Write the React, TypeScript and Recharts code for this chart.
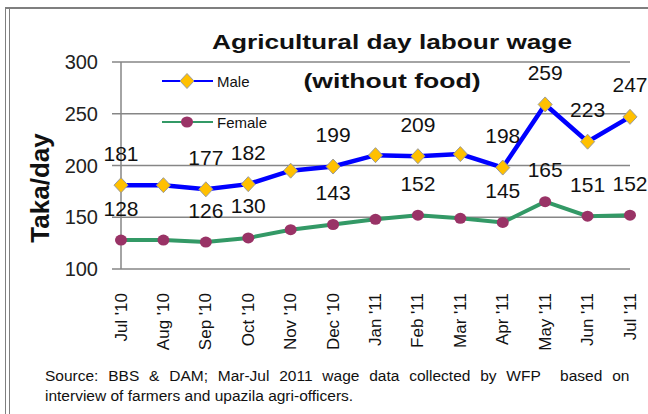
import { LineChart, Line, XAxis, YAxis, CartesianGrid, Legend, LabelList } from 'recharts'

const MONTHS = ["Jul '10", "Aug '10", "Sep '10", "Oct '10", "Nov '10", "Dec '10", "Jan '11", "Feb '11", "Mar '11", "Apr '11", "May '11", "Jun '11", "Jul '11"]
const MALE = [181, 181, 177, 182, 195, 199, 210, 209, 211, 198, 259, 223, 247]
const FEMALE = [128, 128, 126, 130, 138, 143, 148, 152, 149, 145, 165, 151, 152]
// months that carry a value label in the original
const LABELLED = [0, 2, 3, 5, 7, 9, 10, 11, 12]
const Y_TICKS = [100, 150, 200, 250, 300]
const EDGE_TICKS = [0, 1, 2, 3, 4, 5, 6, 7, 8, 9, 10, 11, 12, 13]

const data = MONTHS.map((month, i) => ({ month, male: MALE[i], female: FEMALE[i] }))

const GREY = '#868686'
const FONT = '"Liberation Sans", Arial, sans-serif'

const Diamond = ({ cx, cy }: { cx?: number; cy?: number }) => {
  if (cx == null || cy == null) return null
  return <path d={`M${cx},${cy - 7.5} L${cx + 7},${cy} L${cx},${cy + 7.5} L${cx - 7},${cy} Z`} fill="#FFC000" stroke="#9a9a9a" strokeWidth={1} />
}

const Dot = ({ cx, cy }: { cx?: number; cy?: number }) => {
  if (cx == null || cy == null) return null
  return <ellipse cx={cx} cy={cy} rx={6} ry={5.5} fill="#993366" />
}

const ValueLabel = (props: any) => {
  const { x, y, value, index } = props
  if (!LABELLED.includes(index)) return null
  return (
    <text x={x} y={y - 32} textAnchor="middle" dominantBaseline="central" fontSize={21} fontFamily={FONT} fill="#111">
      {value}
    </text>
  )
}

const MonthTick = ({ x, y, payload }: any) => (
  <text
    x={x}
    y={y + 24}
    transform={`rotate(-90, ${x}, ${y + 24})`}
    textAnchor="end"
    dominantBaseline="central"
    fontSize={17}
    fontFamily={FONT}
    fill="#111"
  >
    {payload.value}
  </text>
)

const LEGEND = [
  { name: 'Male', color: '#0000FF', marker: 'diamond' },
  { name: 'Female', color: '#339966', marker: 'circle' },
]

const renderLegend = () => (
  <div style={{ fontFamily: FONT, fontSize: 15, color: '#111' }}>
    {LEGEND.map((s, i) => (
      <div key={s.name} style={{ display: 'flex', alignItems: 'center', height: 18, marginBottom: i === 0 ? 23 : 0 }}>
        <svg width={55} height={18}>
          <line x1={0} y1={9} x2={51} y2={9} stroke={s.color} strokeWidth={2} />
          {s.marker === 'diamond' ? <Diamond cx={25} cy={9} /> : <Dot cx={25} cy={9} />}
        </svg>
        <span>{s.name}</span>
      </div>
    ))}
  </div>
)

export default function App() {
  return (
    <div style={{ position: 'absolute', left: 0, top: 0, width: 648, height: 414, background: '#fff', overflow: 'hidden' }}>
      {/* frame */}
      <div style={{ position: 'absolute', left: 5, top: 7, width: 643, height: 2, background: '#7f7f7f' }} />
      <div style={{ position: 'absolute', left: 5, top: 7, width: 1, height: 407, background: '#7f7f7f' }} />
      <div style={{ position: 'absolute', left: 9, top: 9, width: 1, height: 405, background: '#7f7f7f' }} />

      <div style={{ position: 'absolute', left: 0, top: 0 }}>
        <LineChart width={648} height={414} data={data} margin={{ top: 62, right: 18, bottom: 65, left: 21 }}>
          <CartesianGrid xAxisId="cat" vertical={false} stroke={GREY} strokeWidth={1.5} />
          <XAxis
            xAxisId="edge"
            type="number"
            domain={[0, 13]}
            ticks={EDGE_TICKS}
            height={0}
            tick={false}
            tickSize={7}
            tickLine={{ stroke: GREY, strokeWidth: 1.5 }}
            axisLine={{ stroke: GREY, strokeWidth: 1.5 }}
            allowDataOverflow
          />
          <XAxis
            xAxisId="cat"
            dataKey="month"
            height={80}
            axisLine={false}
            tickLine={false}
            tickSize={0}
            tickMargin={0}
            interval={0}
            tick={<MonthTick />}
          />
          <YAxis
            domain={[100, 300]}
            ticks={Y_TICKS}
            width={100}
            tickSize={9}
            tickMargin={14}
            axisLine={{ stroke: GREY, strokeWidth: 1.5 }}
            tickLine={{ stroke: GREY, strokeWidth: 1.5 }}
            tick={{ fontSize: 20, fill: '#222', fontFamily: FONT }}
          />
          <Legend
            layout="vertical"
            align="center"
            verticalAlign="middle"
            content={renderLegend}
            wrapperStyle={{ position: 'absolute', top: 72, left: 162, width: 120 }}
          />
          <Line xAxisId="cat" dataKey="male" name="Male" stroke="#0000FF" strokeWidth={4.5} dot={<Diamond />} isAnimationActive={false}>
            <LabelList dataKey="male" content={<ValueLabel />} />
          </Line>
          <Line xAxisId="cat" dataKey="female" name="Female" stroke="#339966" strokeWidth={4} dot={<Dot />} isAnimationActive={false}>
            <LabelList dataKey="female" content={<ValueLabel />} />
          </Line>
        </LineChart>
      </div>

      {/* titles, axis title and source note */}
      <svg width={648} height={414} style={{ position: 'absolute', left: 0, top: 0, pointerEvents: 'none' }}>
        <text x={392} y={49} textAnchor="middle" fontSize={20} fontWeight="bold" fontFamily={FONT} textLength={360} lengthAdjust="spacingAndGlyphs" fill="#111">
          Agricultural day labour  wage
        </text>
        <text x={392} y={88} textAnchor="middle" fontSize={21} fontWeight="bold" fontFamily={FONT} textLength={177} lengthAdjust="spacingAndGlyphs" fill="#111">
          (without food)
        </text>
        <text x={40} y={188} transform="rotate(-90, 40, 188)" textAnchor="middle" dominantBaseline="central" fontSize={26} fontWeight="bold" fontFamily={FONT} fill="#111">
          Taka/day
        </text>
        <text x={45} y={381} fontSize={15.5} fontFamily={FONT} wordSpacing={5.5} fill="#111" style={{ whiteSpace: 'pre' }}>
          Source: BBS &amp; DAM; Mar-Jul 2011 wage data collected by WFP  based on
        </text>
        <text x={45} y={401} fontSize={15.5} fontFamily={FONT} fill="#111">
          interview of farmers and upazila agri-officers.
        </text>
      </svg>
    </div>
  )
}
